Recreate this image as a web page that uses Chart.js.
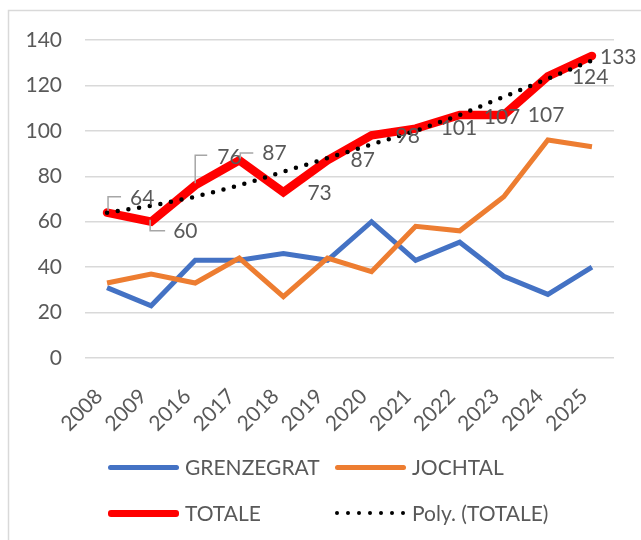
<!DOCTYPE html>
<html>
<head>
<meta charset="utf-8">
<script src="https://cdn.jsdelivr.net/npm/chart.js@4/dist/chart.umd.min.js"></script>
<style>
  body { margin: 0; background: #fff; }
  #wrap { position: relative; width: 641px; height: 540px; overflow: hidden; }
  #myChart { position: absolute; left: 0; top: 0; }
  .legend-text {
    position: absolute;
    font-family: Lato, "Liberation Sans", sans-serif;
    font-size: 21px;
    color: #595959;
    height: 24px;
    line-height: 24px;
    white-space: nowrap;
  }
  .swatch { position: absolute; width: 71px; border-radius: 3px; }
  .dot { position: absolute; width: 4.5px; height: 4.5px; border-radius: 50%; background: #000; }
</style>
</head>
<body>
<div id="wrap">
  <canvas id="myChart" width="641" height="540"></canvas>
  <div id="legend"></div>
</div>
<script>
"use strict";

let years = ["2008", "2009", "2016", "2017", "2018", "2019", "2020", "2021", "2022", "2023", "2024", "2025"];
let grenzegrat = [31, 23, 43, 43, 46, 43, 60, 43, 51, 36, 28, 40];
let jochtal = [33, 37, 33, 44, 27, 44, 38, 58, 56, 71, 96, 93];
let totale = [64, 60, 76, 87, 73, 87, 98, 101, 107, 107, 124, 133];
let polyTotale = [64, 67, 71, 76, 82, 88, 94, 100, 107, 115, 123, 131];
let yTicks = [0, 20, 40, 60, 80, 100, 120, 140];

const textColor = "#595959";
const fontFamily = "Lato, 'Liberation Sans', sans-serif";

// where each TOTALE label sits, relative to its point: [dx, dy, leader line points]
let labelPlaces = [
  [23, -14, [[1, -2], [1, -16], [14, -16]]],
  [22, 10, [[-1, -2], [-1, 9], [14, 9]]],
  [22, -28, [[0, -2], [0, -30], [12, -30]]],
  [23, -7, [[1, -2], [1, -7.5], [14, -7.5]]],
  [24, 1, null],
  [23, 0, null],
  [24, 1, null],
  [25, 0, null],
  [24, 2, null],
  [24, 0, null],
  [24, 1, null],
  [8, 1, null],
];

const framePlugin = {
  id: "frame",
  beforeDraw(chart) {
    let ctx = chart.ctx;
    ctx.save();
    ctx.strokeStyle = "#D9D9D9";
    ctx.lineWidth = 1.5;
    ctx.strokeRect(8.5, 10.5, 700, 600);
    ctx.restore();
  },
};

const totaleLabels = {
  id: "totaleLabels",
  afterDatasetsDraw(chart) {
    let ctx = chart.ctx;
    let meta = chart.getDatasetMeta(2);
    ctx.save();
    ctx.font = "21px " + fontFamily;
    ctx.textBaseline = "middle";
    ctx.textAlign = "left";
    for (let i = 0; i < meta.data.length; i++) {
      let pt = meta.data[i];
      let place = labelPlaces[i];
      if (place[2]) {
        ctx.strokeStyle = "#A6A6A6";
        ctx.lineWidth = 1.5;
        ctx.beginPath();
        for (let j = 0; j < place[2].length; j++) {
          let px = pt.x + place[2][j][0];
          let py = pt.y + place[2][j][1];
          if (j === 0) {
            ctx.moveTo(px, py);
          } else {
            ctx.lineTo(px, py);
          }
        }
        ctx.stroke();
      }
      ctx.fillStyle = textColor;
      ctx.fillText(String(totale[i]), pt.x + place[0], pt.y + place[1]);
    }
    ctx.restore();
  },
};

const data = {
  labels: years,
  datasets: [
    {
      label: "GRENZEGRAT",
      data: grenzegrat,
      borderColor: "#4472C4",
      borderWidth: 5,
      pointRadius: 0,
      order: 3,
    },
    {
      label: "JOCHTAL",
      data: jochtal,
      borderColor: "#ED7D31",
      borderWidth: 5,
      pointRadius: 0,
      order: 2,
    },
    {
      label: "TOTALE",
      data: totale,
      borderColor: "#FF0000",
      borderWidth: 8.5,
      borderCapStyle: "round",
      pointRadius: 0,
      order: 1,
    },
    {
      label: "Poly. (TOTALE)",
      data: polyTotale,
      borderColor: "#000000",
      borderWidth: 4.5,
      borderDash: [0, 10.8],
      borderCapStyle: "round",
      pointRadius: 0,
      order: 0,
    },
  ],
};

const config = {
  type: "line",
  data: data,
  options: {
    responsive: false,
    animation: false,
    devicePixelRatio: 1,
    layout: {
      padding: { top: 40, right: 27, left: 0, bottom: 0 },
    },
    plugins: {
      legend: { display: false },
      tooltip: { enabled: false },
    },
    scales: {
      x: {
        offset: true,
        grid: { display: false },
        border: { display: false },
        ticks: {
          color: textColor,
          font: { family: fontFamily, size: 21 },
          minRotation: 45,
          maxRotation: 45,
          padding: 18,
          labelOffset: -8,
        },
        afterFit(scale) {
          scale.height = 182;
        },
      },
      y: {
        min: 0,
        max: 140,
        afterBuildTicks(scale) {
          scale.ticks = yTicks.map((v) => ({ value: v }));
        },
        grid: { color: "#D9D9D9", lineWidth: 1.5, drawTicks: false },
        border: { display: false },
        ticks: {
          color: textColor,
          font: { family: fontFamily, size: 21 },
          padding: 23,
        },
        afterFit(scale) {
          scale.width = 85;
        },
      },
    },
  },
  plugins: [framePlugin, totaleLabels],
};

const canvasChart = document.getElementById("myChart");
new Chart(canvasChart, config);

// legend, two rows of two
function addLegendItem(text, x, y, color, thick, dotted) {
  let legend = document.getElementById("legend");
  if (dotted) {
    for (let i = 0; i < 7; i++) {
      let dot = document.createElement("div");
      dot.className = "dot";
      dot.style.left = (x + 2 + i * 11) - 2.25 + "px";
      dot.style.top = y - 2.25 + "px";
      legend.appendChild(dot);
    }
  } else {
    let sw = document.createElement("div");
    sw.className = "swatch";
    sw.style.left = x + "px";
    sw.style.top = y - thick / 2 + "px";
    sw.style.height = thick + "px";
    sw.style.background = color;
    legend.appendChild(sw);
  }
  let label = document.createElement("div");
  label.className = "legend-text";
  label.textContent = text;
  label.style.left = x + 77 + "px";
  label.style.top = y - 12 + "px";
  legend.appendChild(label);
}

addLegendItem(data.datasets[0].label, 108, 467, "#4472C4", 5, false);
addLegendItem(data.datasets[1].label, 335, 467, "#ED7D31", 5, false);
addLegendItem(data.datasets[2].label, 108, 513, "#FF0000", 7, false);
addLegendItem(data.datasets[3].label, 335, 513, "#000000", 4.5, true);
</script>
</body>
</html>
